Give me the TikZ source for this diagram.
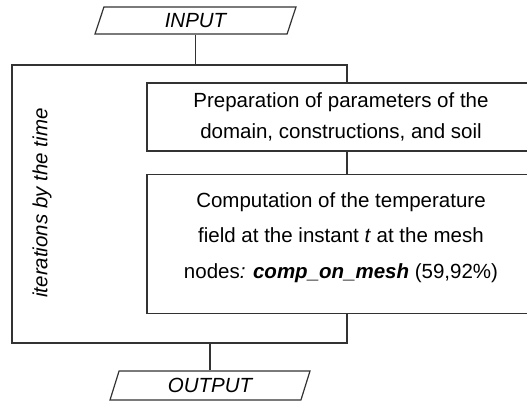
\documentclass[tikz,border=0pt]{standalone}
\usepackage{fontspec}
\setmainfont{Liberation Sans}
\usetikzlibrary{shapes.geometric}

\begin{document}
\begin{tikzpicture}[x=1pt,y=-1pt,line width=1.2pt]
 \tikzstyle{io} = [draw=black!80,trapezium,trapezium left angle=58,trapezium right angle=122,trapezium stretches body,inner sep=0pt,font=\fontsize{20.5}{24}\selectfont\itshape]
 \tikzstyle{stepbox} = [draw=black!80,fill=white,rectangle,minimum width=388pt,align=center,inner xsep=0pt]
 \tikzstyle{link} = [draw=black!80]
 \newcommand{\fsz}{20.5}

 \useasboundingbox (0,0) rectangle (527,403);
 \clip (0,0) rectangle (527,403);

 % Loop over the time steps
 \node[draw=black!80,minimum width=335pt,minimum height=278pt,inner sep=0pt] (loop) at (179.5,204) {};
 \node[rotate=90,font=\fontsize{\fsz}{24}\selectfont\itshape] (looplabel) at (42,203) {iterations by the time};

 % Input and output
 \node[io,minimum width=201pt,minimum height=27pt] (input) at (195.5,20.5) {INPUT};
 \node[io,minimum width=200pt,minimum height=29pt] (output) at (210,385.5) {OUTPUT};

 % Steps inside the loop
 \node[stepbox,minimum height=68pt,font=\fontsize{\fsz}{31.5}\selectfont] (prep) at (341,117) {Preparation of parameters of the\\domain, constructions, and soil};
 \node[stepbox,anchor=north,inner ysep=18pt,text depth=17pt,font=\fontsize{\fsz}{35.5}\selectfont] (comp) at (341,174) {Computation of the temperature\\field at the instant \textit{t} at the mesh\\nodes\textit{:} \textbf{\textit{comp\_on\_mesh}} (59,92\%)};

 % Connectors
 \draw[link] (input.south) -- (input.south |- loop.north);
 \draw[link] (prep.south -| loop.east) -- (comp.north -| loop.east);
 \draw[link] (output.north |- loop.south) -- (output.north);

\end{tikzpicture}
\end{document}
